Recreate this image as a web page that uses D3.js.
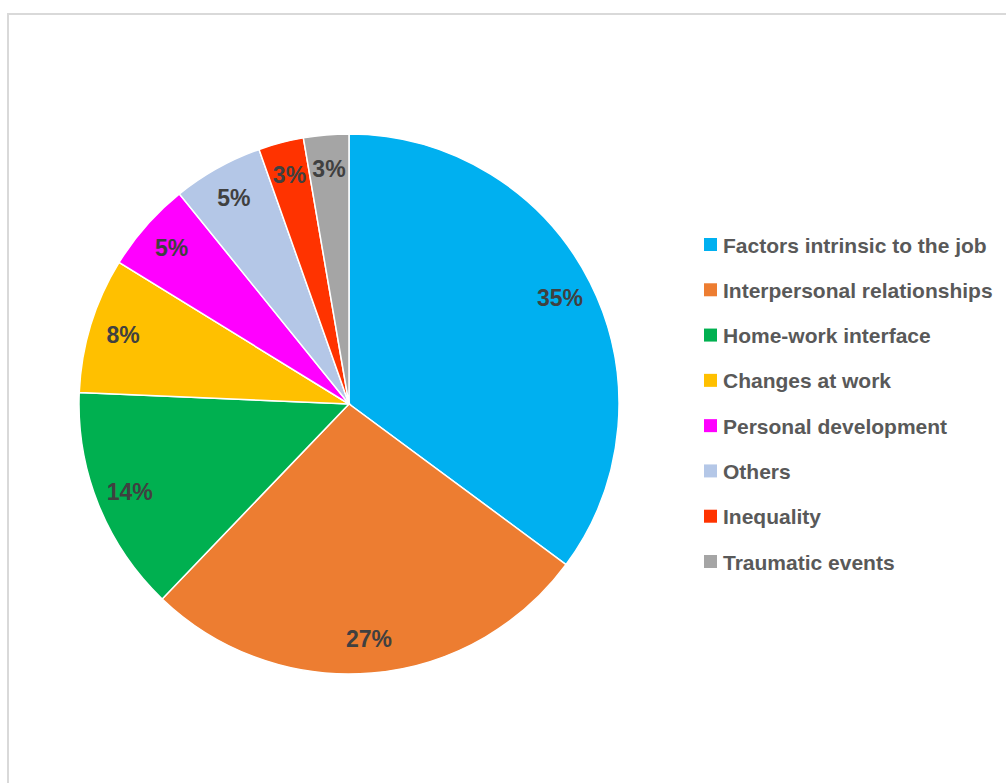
<!DOCTYPE html>
<html><head><meta charset="utf-8">
<script src="https://cdn.jsdelivr.net/npm/d3@7"></script>
<style>body{margin:0;background:#fff;} svg{display:block;}</style>
</head><body>
<svg id="chart" width="1006" height="783"></svg>
<script>
const categories = ["Factors intrinsic to the job","Interpersonal relationships","Home-work interface","Changes at work","Personal development","Others","Inequality","Traumatic events"];
const counts = [13,10,5,3,2,2,1,1];
const colors = ["#00B0F0","#ED7D31","#00B050","#FFC000","#FF00FF","#B4C7E7","#FF3300","#A5A5A5"];

const svg = d3.select("#chart");
svg.append("rect").attr("x",8).attr("y",14).attr("width",1100).attr("height",900)
  .attr("fill","#fff").attr("stroke","#d9d9d9").attr("stroke-width",2);

const cx = 349, cy = 404, r = 270;
const total = d3.sum(counts);
const data = categories.map((c,i)=>({name:c,value:counts[i],color:colors[i]}));
const pie = d3.pie().value(d=>d.value).sort(null);
const arcs = pie(data);
const arc = d3.arc().innerRadius(0).outerRadius(r);
const labelArc = d3.arc().innerRadius(r*0.875).outerRadius(r*0.875);
const g = svg.append("g").attr("transform",`translate(${cx},${cy})`);
g.selectAll("path").data(arcs).join("path").attr("d",arc).attr("fill",d=>d.data.color)
  .attr("stroke","#fff").attr("stroke-width",1.5);
g.selectAll("text").data(arcs).join("text")
  .attr("transform",d=>`translate(${labelArc.centroid(d)})`)
  .attr("text-anchor","middle").attr("dominant-baseline","central")
  .attr("font-family","Liberation Sans, Arial, sans-serif").attr("font-weight","bold")
  .attr("font-size",23).attr("fill","#404040")
  .text(d=>d3.format(".0%")(d.data.value/total));

const ly = d3.scalePoint().domain(categories).range([245,562]);
const lg = svg.append("g");
const rows = lg.selectAll("g").data(data).join("g").attr("transform",d=>`translate(704,${ly(d.name)})`);
rows.append("rect").attr("x",0).attr("y",-7).attr("width",13).attr("height",13).attr("fill",d=>d.color);
rows.append("text").attr("x",19).attr("y",0).attr("dominant-baseline","central")
  .attr("font-family","Liberation Sans, Arial, sans-serif").attr("font-weight","bold")
  .attr("font-size",21).attr("fill","#595959").text(d=>d.name);
</script>
</body></html>
